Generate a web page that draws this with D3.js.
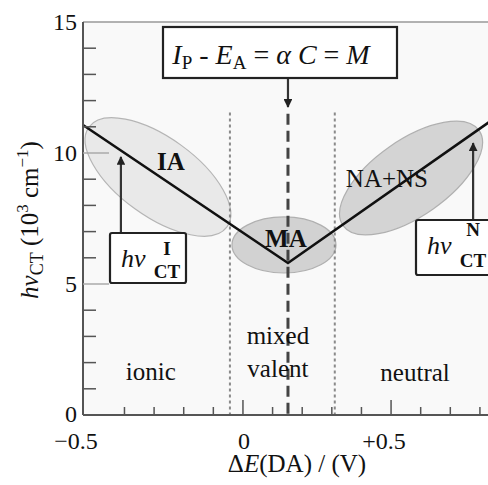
<!DOCTYPE html>
<html>
<head>
<meta charset="utf-8">
<script src="https://cdn.jsdelivr.net/npm/d3@7/dist/d3.min.js"></script>
<style>
  html, body { margin: 0; padding: 0; background: #fff; }
  svg { display: block; }
</style>
</head>
<body>
<svg id="chart" width="488" height="485"></svg>
<script>
// ---------------- data ----------------
const xDomain = [-0.54, 0.834];
const yDomain = [0, 15];
const xMinorTicks = [-0.4, -0.3, -0.2, -0.1, 0.1, 0.2, 0.3, 0.4, 0.6, 0.7, 0.8];
const xMajorTicks = [0, 0.5];
const xTickLabels = ["−0.5", "0", "+0.5"];
const xTickLabelValues = [-0.54, 0, 0.5];
const yMinorTicks = [1, 2, 3, 4, 6, 7, 8, 9, 11, 12, 13, 14];
const yMajorTicks = [5, 10];
const yTickLabels = ["0", "5", "10", "15"];
const yTickLabelValues = [0, 5, 10, 15];

// hv_CT vs ΔE(DA): V-shaped line
const lineX = [-0.54, 0.152, 0.834];
const lineY = [11.07, 5.8, 11.2];

// phase boundaries (dotted) and M (dashed)
const boundaryX = [-0.044, 0.31];
const boundaryTop = 11.55;
const mX = 0.152;
const mTop = 11.5;

// ellipse regions: tips of the major axis (data units) and semi-minor axis (y units)
const regionNames = ["IA", "MA", "NA+NS"];
const regionTipA = [[-0.52, 10.99], [-0.037, 6.49], [0.338, 7.23]];
const regionTipB = [[-0.054, 7.18], [0.314, 6.49], [0.797, 10.86]];
const regionMinor = [1.5, 1.07, 1.45];
const regionLabelPos = [[-0.243, 9.35], [0.145, 6.41], [0.486, 8.70]];

// phase names
const phaseLines = [["ionic"], ["mixed", "valent"], ["neutral"]];
const phaseX = [-0.311, 0.118, 0.581];
const phaseY = [1.34, 2.71, 1.30];

// hv_CT arrows
const arrowX = [-0.412, 0.777];
const arrowFrom = [6.95, 7.44];
const arrowTo = [9.85, 10.38];
const arrowSup = ["I", "N"];

// ---------------- layout ----------------
const FONT = '"Liberation Serif", "Times New Roman", Tinos, serif';
const svg = d3.select("#chart");
const x = d3.scaleLinear().domain(xDomain).range([83, 490]);
const y = d3.scaleLinear().domain(yDomain).range([415, 22]);
function txt(sel) { return sel.append("text").style("font-family", FONT).attr("fill", "#111"); }

// plot background
svg.append("rect")
  .attr("x", x(xDomain[0])).attr("y", y(yDomain[1]))
  .attr("width", x(xDomain[1]) - x(xDomain[0]))
  .attr("height", y(yDomain[0]) - y(yDomain[1]))
  .attr("fill", "#f9f9f9");

// ellipses
const ellFill = ["#e9e9e9", "#d2d2d2", "#d4d4d4"];
const ellStroke = ["#b5b5b5", "#b0b0b0", "#b0b0b0"];
regionNames.forEach((n, i) => {
  const ax = x(regionTipA[i][0]), ay = y(regionTipA[i][1]);
  const bx = x(regionTipB[i][0]), by = y(regionTipB[i][1]);
  const cx = (ax + bx) / 2, cy = (ay + by) / 2;
  const rx = Math.hypot(bx - ax, by - ay) / 2;
  const ry = y(0) - y(regionMinor[i]);
  const ang = Math.atan2(by - ay, bx - ax) * 180 / Math.PI;
  svg.append("ellipse")
    .attr("cx", 0).attr("cy", 0).attr("rx", rx).attr("ry", ry)
    .attr("transform", `translate(${cx},${cy}) rotate(${ang})`)
    .attr("fill", ellFill[i]).attr("stroke", ellStroke[i]).attr("stroke-width", 1.2);
});

// dotted boundaries
boundaryX.forEach(b => {
  svg.append("line")
    .attr("x1", x(b)).attr("x2", x(b))
    .attr("y1", y(boundaryTop)).attr("y2", y(0))
    .attr("stroke", "#8a8a8a").attr("stroke-width", 2)
    .attr("stroke-dasharray", "3,3");
});

// V line
const pts = lineX.map((v, i) => [v, lineY[i]]);
svg.append("path")
  .attr("d", d3.line().x(d => x(d[0])).y(d => y(d[1]))(pts))
  .attr("fill", "none").attr("stroke", "#111").attr("stroke-width", 2.6);

// dashed M line
svg.append("line")
  .attr("x1", x(mX)).attr("x2", x(mX))
  .attr("y1", y(mTop)).attr("y2", y(0))
  .attr("stroke", "#444").attr("stroke-width", 3)
  .attr("stroke-dasharray", "11,6");

// region labels
regionNames.forEach((n, i) => {
  txt(svg)
    .attr("x", x(regionLabelPos[i][0])).attr("y", y(regionLabelPos[i][1]))
    .attr("text-anchor", "middle")
    .attr("font-size", 25)
    .attr("font-weight", i === 2 ? "normal" : "bold")
    .text(n);
});

// phase labels
phaseLines.forEach((lines, i) => {
  lines.forEach((t, j) => {
    txt(svg)
      .attr("x", x(phaseX[i])).attr("y", y(phaseY[i]) + j * 33)
      .attr("text-anchor", "middle")
      .attr("font-size", 25)
      .text(t);
  });
});

// axes
const axisG = svg.append("g");
axisG.append("line").attr("x1", x(xDomain[0])).attr("x2", x(xDomain[1]))
  .attr("y1", y(yDomain[1])).attr("y2", y(yDomain[1]))
  .attr("stroke", "#999").attr("stroke-width", 1.5);
axisG.append("line").attr("x1", x(xDomain[0])).attr("x2", x(xDomain[0]))
  .attr("y1", y(yDomain[1])).attr("y2", y(0))
  .attr("stroke", "#555").attr("stroke-width", 2);
axisG.append("line").attr("x1", x(xDomain[0])).attr("x2", x(xDomain[1]))
  .attr("y1", y(0)).attr("y2", y(0))
  .attr("stroke", "#555").attr("stroke-width", 2);

// x ticks (inward)
xMinorTicks.forEach(v => {
  axisG.append("line").attr("x1", x(v)).attr("x2", x(v))
    .attr("y1", y(0)).attr("y2", y(0) - 8)
    .attr("stroke", "#555").attr("stroke-width", 1.5);
});
xMajorTicks.forEach(v => {
  axisG.append("line").attr("x1", x(v)).attr("x2", x(v))
    .attr("y1", y(0)).attr("y2", y(0) - 15)
    .attr("stroke", "#555").attr("stroke-width", 1.5);
});
// y ticks (inward)
yMinorTicks.forEach(v => {
  axisG.append("line").attr("x1", x(xDomain[0])).attr("x2", x(xDomain[0]) + 13)
    .attr("y1", y(v)).attr("y2", y(v))
    .attr("stroke", "#555").attr("stroke-width", 1.5);
});
yMajorTicks.forEach(v => {
  axisG.append("line").attr("x1", x(xDomain[0])).attr("x2", x(xDomain[0]) + 26)
    .attr("y1", y(v)).attr("y2", y(v))
    .attr("stroke", "#aaa").attr("stroke-width", 1.5);
});

// tick labels
xTickLabels.forEach((t, i) => {
  const signed = t.length > 1 && (t[0] === "−" || t[0] === "+");
  txt(svg)
    .attr("x", x(xTickLabelValues[i]) + (signed ? -7 : 1))
    .attr("y", 449)
    .attr("text-anchor", "middle")
    .attr("font-size", 24)
    .text(t);
});
yTickLabels.forEach((t, i) => {
  txt(svg)
    .attr("x", 77).attr("y", y(yTickLabelValues[i]) + (i === 0 ? 7 : 8))
    .attr("text-anchor", "end")
    .attr("font-size", 24)
    .text(t);
});

// x axis title
const xt = txt(svg).attr("x", 297).attr("y", 472)
  .attr("text-anchor", "middle").attr("font-size", 25);
xt.append("tspan").text("Δ");
xt.append("tspan").attr("font-style", "italic").text("E");
xt.append("tspan").text("(DA) / (V)");

// y axis title
const yt = txt(svg)
  .attr("transform", "translate(38,220) rotate(-90)")
  .attr("text-anchor", "middle").attr("font-size", 25);
yt.append("tspan").attr("font-style", "italic").text("hν");
yt.append("tspan").attr("font-size", 18).attr("dy", 5).text("CT");
yt.append("tspan").attr("dy", -5).text(" (10");
yt.append("tspan").attr("font-size", 17).attr("dy", -10).text("3");
yt.append("tspan").attr("dy", 10).text(" cm");
yt.append("tspan").attr("font-size", 17).attr("dy", -10).text("−1");
yt.append("tspan").attr("dy", 10).text(")");

// arrow marker
const defs = svg.append("defs");
defs.append("marker").attr("id", "ah").attr("viewBox", "0 0 10 10")
  .attr("refX", 9).attr("refY", 5).attr("markerWidth", 4).attr("markerHeight", 4)
  .attr("markerUnits", "strokeWidth").attr("orient", "auto")
  .append("path").attr("d", "M0,0 L10,5 L0,10 Z").attr("fill", "#222");

// hv_CT arrows and boxes
const boxes = [[110, 233, 76, 50], [416, 220, 76, 55]];
arrowX.forEach((v, i) => {
  svg.append("line")
    .attr("x1", x(v)).attr("x2", x(v))
    .attr("y1", y(arrowFrom[i])).attr("y2", y(arrowTo[i]))
    .attr("stroke", "#333").attr("stroke-width", 2.2)
    .attr("marker-end", "url(#ah)");
  const b = boxes[i];
  svg.append("rect").attr("x", b[0]).attr("y", b[1]).attr("width", b[2]).attr("height", b[3])
    .attr("rx", 2).attr("fill", "#fff").attr("stroke", "#222").attr("stroke-width", 2.2);
  txt(svg).attr("x", b[0] + 11).attr("y", b[1] + 34)
    .attr("font-size", 26).attr("font-style", "italic").text("hν");
  txt(svg).attr("x", b[0] + 57).attr("y", b[1] + (i === 0 ? 22 : 16))
    .attr("text-anchor", "middle")
    .attr("font-size", 19).attr("font-weight", "bold").text(arrowSup[i]);
  txt(svg).attr("x", b[0] + 57).attr("y", b[1] + (i === 0 ? 45 : 47))
    .attr("text-anchor", "middle")
    .attr("font-size", 19).attr("font-weight", "bold").text("CT");
});

// formula box and arrow to M
svg.append("line")
  .attr("x1", x(mX)).attr("x2", x(mX))
  .attr("y1", 78).attr("y2", 107)
  .attr("stroke", "#333").attr("stroke-width", 2.2)
  .attr("marker-end", "url(#ah)");
svg.append("rect").attr("x", 163).attr("y", 27).attr("width", 234).attr("height", 51)
  .attr("fill", "#fff").attr("stroke", "#222").attr("stroke-width", 2.2);
const ft = txt(svg).attr("x", 271).attr("y", 64)
  .attr("text-anchor", "middle").attr("font-size", 28);
ft.append("tspan").attr("font-style", "italic").text("I");
ft.append("tspan").attr("font-size", 19).attr("dy", 5).text("P");
ft.append("tspan").attr("dy", -5).text(" - ");
ft.append("tspan").attr("font-style", "italic").text("E");
ft.append("tspan").attr("font-size", 19).attr("dy", 5).text("A");
ft.append("tspan").attr("dy", -5).text(" = ");
ft.append("tspan").attr("font-style", "italic").text("α C");
ft.append("tspan").text(" = ");
ft.append("tspan").attr("font-style", "italic").text("M");
</script>
</body>
</html>
